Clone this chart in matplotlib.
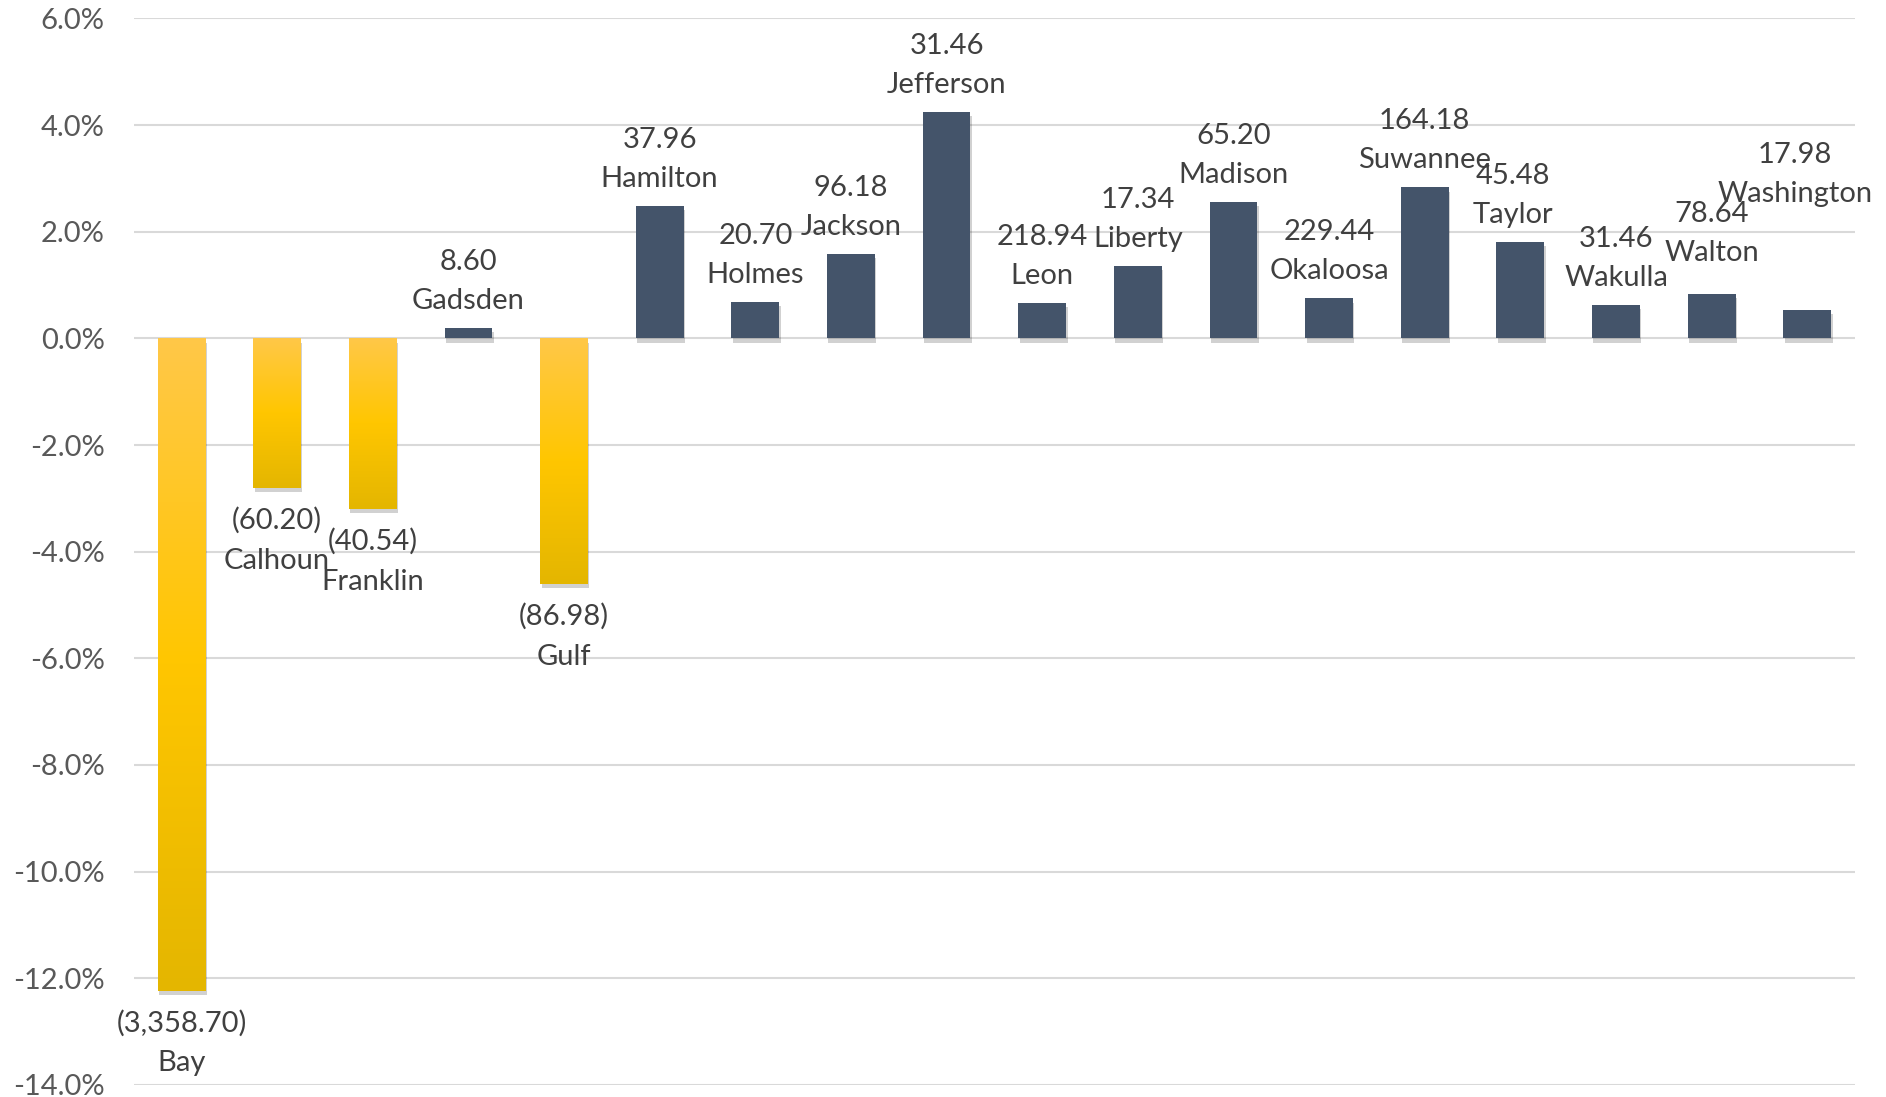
import matplotlib
matplotlib.use('Agg')
import matplotlib.pyplot as plt
import matplotlib.patheffects as pe
from matplotlib.colors import LinearSegmentedColormap
import numpy as np

# county, percent change, dollar change
counties = ['Bay', 'Calhoun', 'Franklin', 'Gadsden', 'Gulf', 'Hamilton', 'Holmes',
            'Jackson', 'Jefferson', 'Leon', 'Liberty', 'Madison', 'Okaloosa',
            'Suwannee', 'Taylor', 'Wakulla', 'Walton', 'Washington']
pct_change = [-12.23, -2.80, -3.20, 0.20, -4.60, 2.48, 0.68, 1.58, 4.25, 0.66,
              1.36, 2.56, 0.75, 2.83, 1.81, 0.63, 0.84, 0.54]
amount = [-3358.70, -60.20, -40.54, 8.60, -86.98, 37.96, 20.70, 96.18, 31.46,
          218.94, 17.34, 65.20, 229.44, 164.18, 45.48, 31.46, 78.64, 17.98]
y_ticks = [-14, -12, -10, -8, -6, -4, -2, 0, 2, 4, 6]

# hand-moved labels (points): county -> (dx, dy)
label_shift = {'Taylor': (-5, 0), 'Walton': (0, 10), 'Washington': (-9, 64)}

FONT = 'Lato'
FS = 21
TXT = '#404040'
NAVY = '#44546A'
gold = LinearSegmentedColormap.from_list('gold', ['#FFC848', '#FFC600', '#E4B600'])


def fmt_amount(v):
    s = f'{abs(v):,.2f}'
    return f'({s})' if v < 0 else s


def draw_chart():
    fig = plt.figure(figsize=(18.86, 10.97), dpi=100)
    ax = fig.add_axes([0.0709, 0.011, 0.9127, 0.9722])

    x = np.arange(len(counties))
    shadow = [pe.SimplePatchShadow(offset=(1, -3), shadow_rgbFace='#000000', alpha=0.18),
              pe.Normal()]
    grad = np.linspace(0, 1, 256).reshape(-1, 1)
    w = 0.5

    for xi, v in zip(x, pct_change):
        col = NAVY if v >= 0 else '#FFC600'
        bar = ax.bar(xi, v, width=w, color=col, zorder=3)[0]
        bar.set_path_effects(shadow)
        if v < 0:
            im = ax.imshow(grad, cmap=gold, aspect='auto', zorder=4,
                           extent=(xi - w / 2, xi + w / 2, v, 0))
            im.set_clip_path(bar)

    for xi, v, name, amt in zip(x, pct_change, counties, amount):
        dx, dy = label_shift.get(name, (0, 0))
        if v >= 0:
            offs = [(fmt_amount(amt), 47.5), (name, 19.5)]
        else:
            offs = [(fmt_amount(amt), -23.5), (name, -52.5)]
        for s, off in offs:
            ax.annotate(s, (xi, v), xytext=(dx, off + dy), textcoords='offset points',
                        ha='center', va='center', fontsize=FS, family=FONT,
                        color=TXT, zorder=5)

    ax.set_xlim(-0.5, len(counties) - 0.5)
    ax.set_ylim(-14, 6)
    ax.set_yticks(y_ticks)
    ax.set_yticklabels([f'{t:.1f}%' for t in y_ticks], family=FONT, fontsize=FS,
                       color='#595959')
    ax.set_xticks([])
    ax.tick_params(axis='y', length=0, pad=21)
    ax.grid(axis='y', color='#D9D9D9', linewidth=1.5, zorder=0)
    ax.set_axisbelow(True)
    for sp in ax.spines.values():
        sp.set_visible(False)

    fig.savefig('out.png', dpi=100)


if __name__ == '__main__':
    draw_chart()
